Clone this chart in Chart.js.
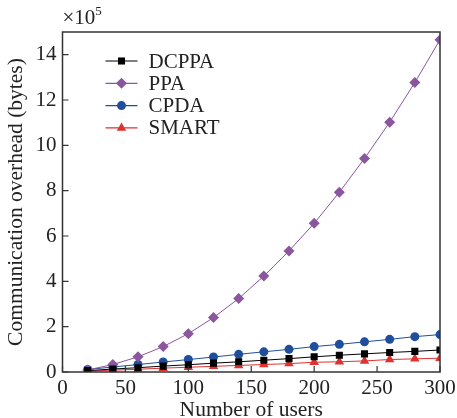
<!DOCTYPE html>
<html>
<head>
<meta charset="utf-8">
<script src="https://cdn.jsdelivr.net/npm/chart.js@4/dist/chart.umd.min.js"></script>
<style>
  body { margin: 0; background: #fff; }
  canvas { display: block; }
</style>
</head>
<body>
<canvas id="chart" width="457" height="418"></canvas>
<script>
// ===================== DATA =====================
// number of users (x) and overhead in units of 10^5 bytes (y)
const users = [20, 40, 60, 80, 100, 120, 140, 160, 180, 200, 220, 240, 260, 280, 300];
const dcppa = [0.06, 0.13, 0.19, 0.26, 0.32, 0.39, 0.45, 0.52, 0.59, 0.67, 0.74, 0.80, 0.86, 0.91, 0.97];
const ppa   = [0.09, 0.33, 0.67, 1.12, 1.69, 2.40, 3.24, 4.23, 5.34, 6.56, 7.93, 9.42, 11.02, 12.77, 14.66];
const cpda  = [0.11, 0.22, 0.33, 0.44, 0.55, 0.66, 0.78, 0.89, 1.00, 1.12, 1.22, 1.33, 1.44, 1.56, 1.65];
const smart = [0.04, 0.08, 0.12, 0.17, 0.21, 0.25, 0.29, 0.33, 0.37, 0.43, 0.45, 0.49, 0.55, 0.58, 0.61];
const xTicks = [0, 50, 100, 150, 200, 250, 300];
const yTicks = [0, 2, 4, 6, 8, 10, 12, 14];

const FONT = 'Liberation Serif';
const pts = arr => arr.map((v, i) => ({ x: users[i], y: v }));

function series(label, data, color, style, radius) {
  return {
    label: label,
    data: pts(data),
    borderColor: color,
    backgroundColor: color,
    borderWidth: 1,
    pointStyle: style,
    pointRadius: radius,
    pointBorderWidth: 0,
    tension: 0,
  };
}

// ===================== PLUGINS =====================
// frame, inward ticks, exponent label and legend
const decor = {
  id: 'decor',
  afterDraw(chart) {
    const ctx = chart.ctx;
    const a = chart.chartArea;
    const xs = chart.scales.x, ys = chart.scales.y;
    ctx.save();
    ctx.strokeStyle = '#333';
    ctx.lineWidth = 1.5;
    ctx.strokeRect(a.left, a.top, a.right - a.left, a.bottom - a.top);

    ctx.lineWidth = 1.2;
    ctx.beginPath();
    xTicks.forEach(v => {
      const px = xs.getPixelForValue(v);
      ctx.moveTo(px, a.bottom);
      ctx.lineTo(px, a.bottom - 6);
    });
    yTicks.forEach(v => {
      const py = ys.getPixelForValue(v);
      ctx.moveTo(a.left, py);
      ctx.lineTo(a.left + 6, py);
    });
    ctx.stroke();

    // ×10^5
    ctx.fillStyle = '#222';
    ctx.textBaseline = 'alphabetic';
    ctx.textAlign = 'left';
    ctx.font = '21px ' + FONT;
    ctx.fillText('×10', a.left, a.top - 8.5);
    const w = ctx.measureText('×10').width;
    ctx.font = '13px ' + FONT;
    ctx.fillText('5', a.left + w, a.top - 17);

    // legend
    const lx = a.left + 43, ly = a.top + 29, step = 22.3;
    chart.data.datasets.forEach((ds, i) => {
      const y = ly + i * step;
      ctx.strokeStyle = ds.borderColor;
      ctx.lineWidth = 1.2;
      ctx.beginPath();
      ctx.moveTo(lx, y);
      ctx.lineTo(lx + 32, y);
      ctx.stroke();
      ctx.fillStyle = ds.backgroundColor;
      Chart.helpers.drawPoint(ctx, { pointStyle: ds.pointStyle, radius: ds.pointRadius, rotation: 0, borderWidth: 0 }, lx + 16, y);
      ctx.fillStyle = '#222';
      ctx.font = '21px ' + FONT;
      ctx.textBaseline = 'middle';
      ctx.fillText(ds.label, lx + 43, y + 1);
    });
    ctx.restore();
  }
};

// ===================== CHART =====================
new Chart(document.getElementById('chart'), {
  type: 'line',
  data: {
    datasets: [
      series('DCPPA', dcppa, '#000000', 'rect', 5),
      series('PPA', ppa, '#8a569e', 'rectRot', 5.5),
      series('CPDA', cpda, '#1f4f9c', 'circle', 4.5),
      series('SMART', smart, '#e03131', 'triangle', 5.5),
    ],
  },
  options: {
    responsive: false,
    animation: false,
    devicePixelRatio: 1,
    layout: { autoPadding: false, padding: { top: 32, right: 0, left: 6, bottom: -3.2 } },
    plugins: { legend: { display: false }, tooltip: { enabled: false } },
    scales: {
      x: {
        type: 'linear',
        min: 0,
        max: 300,
        afterBuildTicks: s => { s.ticks = xTicks.map(v => ({ value: v })); },
        afterFit: s => { s.paddingRight = 17; },
        ticks: { font: { family: FONT, size: 21, lineHeight: 1 }, color: '#222', padding: 6, maxRotation: 0 },
        grid: { display: false, drawTicks: false },
        border: { display: false },
        title: { display: true, text: 'Number of users', font: { family: FONT, size: 21.5, lineHeight: 1 }, color: '#222', padding: { top: -5.3, bottom: 0 } },
      },
      y: {
        min: 0,
        max: 15,
        afterBuildTicks: s => { s.ticks = yTicks.map(v => ({ value: v })); },
        ticks: { font: { family: FONT, size: 21, lineHeight: 1 }, color: '#222', padding: 6 },
        grid: { display: false, drawTicks: false },
        border: { display: false },
        title: { display: true, text: 'Communication overhead (bytes)', font: { family: FONT, size: 21.5, lineHeight: 1 }, color: '#222', padding: { top: 0, bottom: 2 } },
      },
    },
  },
  plugins: [decor],
});
</script>
</body>
</html>
